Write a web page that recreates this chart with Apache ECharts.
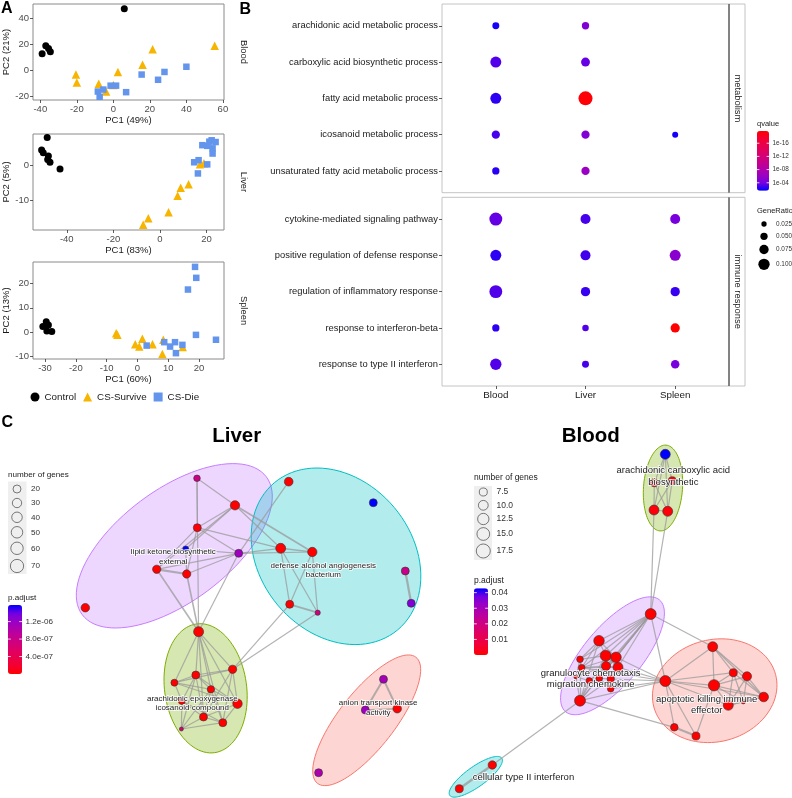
<!DOCTYPE html>
<html><head><meta charset="utf-8">
<script src="https://cdn.jsdelivr.net/npm/echarts@6/dist/echarts.min.js"></script>
<style>html,body{margin:0;padding:0;background:#fff}#c{width:792px;height:798px}</style>
</head><body><div id="c"></div>
<script>
const FONT = '"Liberation Sans", Arial, Helvetica, sans-serif';

// ================= Panel A : PCA =================
const groupNames = ['Control', 'CS-Survive', 'CS-Die'];
const groupColors = ['#000000', '#F7B500', '#6495ED'];
const groupSymbols = ['circle', 'triangle', 'rect'];
const groupSizes = [7, 8.5, 6.5];

const bloodControl = [[6, 47.5], [-39, 13], [-37, 19], [-35.5, 17], [-34.5, 14.5]];
const bloodSurvive = [[-20.5, -3], [-20, -9], [-8, -10], [-4, -16], [0, -11], [2.5, -1], [16, 4.5], [21.5, 16.5], [55.5, 19]];
const bloodDie = [[-8.5, -16], [-7.5, -20], [-5.5, -14.5], [-1.5, -11.5], [1.5, -11.5], [7, -16.5], [15.5, -3], [24.5, -7], [28, -1], [40, 3]];

const liverControl = [[-48.4, 7.9], [-50.8, 4.3], [-50.1, 3.5], [-47.9, 2.6], [-48.2, 1.6], [-47.2, 0.8], [-42.9, -1.1]];
const liverSurvive = [[-7.2, -17.1], [-5, -15.2], [3.7, -13.5], [7.6, -8.8], [8.9, -6.5], [12.3, -5.5], [17.2, 0.2], [18.9, 0.5]];
const liverDie = [[16.3, -2.4], [14.7, 0.8], [16.6, 1.4], [20.3, 0.2], [18.2, 5.7], [20.3, 5.5], [22.6, 4.8], [22.2, 7.1], [23.9, 6.6], [22.6, 3.3], [21.2, 6.7]];

const spleenControl = [[-30.7, 2.3], [-29.6, 4.3], [-28.9, 3], [-29.4, 0.5], [-27.8, 0.3]];
const spleenSurvive = [[-6.9, -0.4], [-6.5, -1], [-0.7, -4.9], [0.6, -5.9], [1.6, -2.7], [4.9, -4.9], [8.4, -3.1], [8.1, -8.9], [14.7, -6.1]];
const spleenDie = [[3, -5.5], [8.7, -4.1], [10.6, -5.9], [12.2, -4.1], [12.5, -8.6], [14.6, -5.2], [16.4, 17.5], [19.1, 22.3], [18.7, 26.8], [19, -1.1], [25.5, -3.1]];

const pcaTissues = ['Blood', 'Liver', 'Spleen'];
const pc1Titles = ['PC1 (49%)', 'PC1 (83%)', 'PC1 (60%)'];
const pc2Titles = ['PC2 (21%)', 'PC2 (5%)', 'PC2 (13%)'];
const bloodXTicks = [-40, -20, 0, 20, 40, 60], bloodYTicks = [-20, 0, 20, 40];
const liverXTicks = [-40, -20, 0, 20], liverYTicks = [-10, 0];
const spleenXTicks = [-30, -20, -10, 0, 10, 20], spleenYTicks = [-10, 0, 10, 20];

// ================= Panel B : GO dot plot =================
const tissues = ['Blood', 'Liver', 'Spleen'];
const metabolismTerms = ['arachidonic acid metabolic process', 'carboxylic acid biosynthetic process', 'fatty acid metabolic process', 'icosanoid metabolic process', 'unsaturated fatty acid metabolic process'];
const immuneTerms = ['cytokine-mediated signaling pathway', 'positive regulation of defense response', 'regulation of inflammatory response', 'response to interferon-beta', 'response to type II interferon'];
// [tissue (1..3), term (1..5), GeneRatio, -log10(qvalue)]
const metabolismDots = [
  [1, 1, 0.046, 2.1], [2, 1, 0.05, 4.7],
  [1, 2, 0.096, 3.2], [2, 2, 0.07, 3.6],
  [1, 3, 0.096, 2.5], [2, 3, 0.134, 19.4],
  [1, 4, 0.062, 3.0], [2, 4, 0.062, 4.7], [3, 4, 0.034, 2.0],
  [1, 5, 0.05, 2.4], [2, 5, 0.062, 6.1]
];
const immuneDots = [
  [1, 1, 0.12, 3.6], [2, 1, 0.084, 3.0], [3, 1, 0.084, 4.1],
  [1, 2, 0.096, 2.5], [2, 2, 0.084, 2.9], [3, 2, 0.096, 5.2],
  [1, 3, 0.12, 3.2], [2, 3, 0.075, 2.7], [3, 3, 0.075, 2.7],
  [1, 4, 0.05, 2.5], [2, 4, 0.04, 3.2], [3, 4, 0.075, 19.7],
  [1, 5, 0.1, 3.2], [2, 5, 0.046, 3.0], [3, 5, 0.065, 4.1]
];
const qRange = [1.6, 19.7];
const qTicks = [16, 12, 8, 4];
const qTickLabels = ['1e-16', '1e-12', '1e-08', '1e-04'];
const geneRatioLegend = [0.025, 0.05, 0.075, 0.1];
const geneRatioLabels = ['0.025', '0.050', '0.075', '0.100'];

// ================= Panel C : enrichment maps =================
// nodes: [x, y (layout units), number of genes, p.adjust]
const liverNodes = [
  [197, 38.3, 12, 7.5e-7], [235, 65.3, 30, 0], [197.3, 87.7, 20, 2e-8], [185.7, 109, 9, 1.58e-6],
  [238.7, 113.3, 20, 1.15e-6], [156.7, 129.3, 22, 0], [186.7, 134, 22, 0], [85.3, 167.7, 24, 0],
  [288.7, 41.7, 25, 0], [373.3, 62.7, 20, 1.58e-6], [280.7, 108.3, 35, 0], [312.3, 112, 30, 0],
  [289.7, 164.3, 20, 0], [317.7, 172.7, 6, 7e-7], [405.3, 131, 20, 8e-7], [411.2, 163.3, 20, 1.3e-6],
  [198.6, 191.7, 36, 0], [232.6, 229.3, 22, 0], [195.8, 235, 20, 0], [174.4, 242.7, 14, 0],
  [210.9, 249.3, 16, 0], [181.8, 261, 14, 0], [237.5, 263.7, 31, 0], [203.5, 277, 20, 0],
  [222.8, 282.7, 20, 0], [181.4, 289, 2.5, 6e-7],
  [383.5, 239.3, 20, 1.1e-6], [365.3, 270, 20, 1.15e-6], [397.2, 268.7, 24, 0], [318.6, 332.7, 20, 1.05e-6]
];
const liverEdges = [
  [0, 1], [0, 2], [0, 16], [1, 2], [1, 3], [1, 5], [1, 10], [1, 11, 1.6], [2, 4], [2, 5], [2, 6], [2, 10],
  [3, 4], [3, 6], [4, 6], [4, 10], [4, 11], [4, 8], [4, 16], [5, 6, 2.2], [5, 16, 1.6], [6, 16, 1.6], [5, 4],
  [10, 11, 1.6], [10, 12], [11, 12], [11, 13], [10, 13], [12, 13, 1.8], [14, 15, 2.2], [17, 12], [17, 13],
  [16, 17], [16, 18], [16, 19], [16, 20], [16, 22], [16, 23], [16, 24], [17, 18], [17, 19], [17, 22], [17, 23],
  [17, 24], [18, 19], [18, 20], [18, 21], [18, 22], [18, 23], [18, 25], [19, 20], [19, 21], [19, 22], [20, 22],
  [20, 23], [20, 24], [21, 23], [21, 24], [21, 25], [22, 23], [22, 24], [23, 24], [24, 25], [20, 25], [23, 25],
  [26, 27, 2], [26, 28, 2], [27, 28, 1.6]
];
// ellipses: [cx, cy, semi-major, semi-minor, angle(deg)]
const liverEllipses = [[174.3, 105.8, 115, 56, -36.8], [336, 116.3, 96, 76, 50], [205.6, 248.3, 65, 41, 82], [366.7, 280.3, 80, 28, -52]];
const liverEllipseColors = ['#C77CFF', '#00BFC4', '#7CAE00', '#F8766D'];
const liverClusterLabels = ['lipid ketone biosynthetic\nexternal', 'defense alcohol angiogenesis\nbacterium', 'arachidonic epoxygenase\nicosanoid compound', 'anion transport kinase\nactivity'];
const liverLabelPos = [[173.3, 117], [323.3, 130.3], [192.3, 263.2], [378.2, 268]];

const bloodNodes = [
  [225.3, 14.3, 10.3, 0.0428], [214.3, 42.7, 7.5, 0.001], [232.3, 40.7, 7.5, 0.001], [214, 70, 10.3, 0.001], [227.7, 71.3, 10.3, 0.001],
  [210.7, 174, 11.9, 0], [159, 200.7, 11.2, 0], [140, 219.3, 5.8, 0], [165.7, 215.7, 11.9, 0], [176, 217.3, 11.2, 0],
  [141.7, 227.7, 5.8, 0], [166, 226, 9, 0], [178, 227.3, 10.3, 0], [136, 236.7, 3.5, 0], [149.3, 240.7, 5.4, 0],
  [159.3, 238.3, 5.8, 0], [170.7, 239, 6.6, 0], [170.7, 248.7, 5.8, 0], [140, 260.7, 11.9, 0],
  [272.7, 206.7, 10.3, 0], [225.3, 241, 11.9, 0], [274, 245.3, 12.5, 0], [293.3, 232.7, 7.5, 0], [307, 236.3, 9, 0],
  [323.7, 257, 9.7, 0], [288.3, 265.3, 10.3, 0], [303.3, 261.7, 3.5, 0], [234.3, 287.3, 7, 0], [256, 296, 7.5, 0],
  [52.3, 325, 8, 0], [19.3, 348.7, 7.5, 0]
];
const bloodEdges = [
  [0, 1], [0, 2], [0, 3], [0, 4], [1, 2], [1, 3], [1, 4], [2, 3], [2, 4], [3, 4], [3, 5], [4, 5],
  [5, 6], [5, 7], [5, 8], [5, 9], [5, 10], [5, 11], [5, 12], [5, 18], [5, 15], [6, 7], [6, 8], [6, 9], [6, 10], [6, 18],
  [7, 8], [7, 10], [7, 13], [7, 18], [8, 9], [8, 11], [8, 12], [9, 10], [9, 11], [9, 12], [10, 11], [10, 12], [10, 13],
  [11, 12], [11, 13], [11, 14], [11, 16], [12, 16], [12, 17], [13, 14], [13, 18], [14, 15], [14, 18], [15, 16], [15, 17],
  [16, 17], [18, 16], [8, 18], [9, 18],
  [5, 19], [5, 20], [9, 20], [10, 20], [12, 20], [16, 20], [17, 20], [18, 20], [18, 27],
  [19, 20], [19, 21], [19, 22], [19, 23], [19, 24], [20, 21], [20, 22], [20, 24], [20, 25], [20, 27], [20, 28],
  [21, 22], [21, 23], [21, 24], [21, 25], [21, 26], [21, 28], [22, 24], [22, 25], [22, 26], [23, 24], [23, 25],
  [23, 26], [24, 25], [24, 26], [25, 26], [27, 28, 2.2], [29, 30, 2.4], [29, 18]
];
const bloodEllipses = [[223, 48, 43, 19.5, -86], [172.5, 215.8, 73, 29, -50], [274.7, 250.7, 63, 51, -15], [35.8, 336.8, 32, 10, -35.7]];
const bloodEllipseColors = ['#7CAE00', '#C77CFF', '#F8766D', '#00BFC4'];
const bloodClusterLabels = ['arachidonic carboxylic acid\nbiosynthetic', 'granulocyte chemotaxis\nmigration chemokine', 'apoptotic killing immune\neffector', 'cellular type II interferon'];
const bloodLabelPos = [[233.3, 36.2], [150.7, 239], [266.7, 265], [83.5, 337.3]];

const liverGeneLegend = [20, 30, 40, 50, 60, 70];
const bloodGeneLegend = [7.5, 10.0, 12.5, 15.0, 17.5];
const liverPRange = [0, 1.58e-6];
const liverPTicks = [1.2e-6, 8e-7, 4e-7];
const liverPTickLabels = ['1.2e-06', '8.0e-07', '4.0e-07'];
const bloodPRange = [0, 0.0428];
const bloodPTicks = [0.04, 0.03, 0.02, 0.01];
const bloodPTickLabels = ['0.04', '0.03', '0.02', '0.01'];

// ---------- scales ----------
const GRAD = ['#0000FF', '#7300E0', '#9A00C3', '#B500A5', '#C90088', '#DA006C', '#E8004F', '#F40031', '#FF0000'];
const ratioSize = r => 3.3 + 80 * r;
const liverGeneSize = g => 1.9 + 1.36 * Math.sqrt(g);
const bloodGeneSize = g => -3.4 + 4.17 * Math.sqrt(g);

// ---------- layout ----------
const aGrids = [{ top: 4, height: 96 }, { top: 134, height: 96 }, { top: 262, height: 97 }];
const aXRanges = [[-44, 60.6], [-54.5, 27.5], [-33.9, 28.1]];
const aYRanges = [[-22.5, 51.1], [-18.6, 8.9], [-11, 28.8]];
const aXTicks = [bloodXTicks, liverXTicks, spleenXTicks];
const aYTicks = [bloodYTicks, liverYTicks, spleenYTicks];
const aData = [[bloodControl, bloodSurvive, bloodDie], [liverControl, liverSurvive, liverDie], [spleenControl, spleenSurvive, spleenDie]];

const grids = [], xAxes = [], yAxes = [], series = [], graphics = [];
const tickStyle = { lineStyle: { color: '#333', width: 0.8 }, length: 3 };
const noLine = { show: false, onZero: false };

for (let i = 0; i < 3; i++) {
  grids.push({ left: 33, top: aGrids[i].top, width: 191, height: aGrids[i].height, show: true, borderColor: '#8a8a8a', borderWidth: 1, backgroundColor: 'transparent' });
  xAxes.push({
    type: 'value', gridIndex: i, min: aXRanges[i][0], max: aXRanges[i][1], name: pc1Titles[i], nameLocation: 'middle', nameGap: 13,
    nameTextStyle: { fontSize: 9.5, color: '#1a1a1a', fontFamily: FONT },
    axisLine: noLine, splitLine: { show: false },
    axisTick: Object.assign({ show: true, customValues: aXTicks[i] }, tickStyle),
    axisLabel: { customValues: aXTicks[i], fontSize: 9.5, color: '#4d4d4d', margin: 4, fontFamily: FONT }
  });
  yAxes.push({
    type: 'value', gridIndex: i, min: aYRanges[i][0], max: aYRanges[i][1], name: pc2Titles[i], nameLocation: 'middle', nameGap: 19,
    nameTextStyle: { fontSize: 9.5, color: '#1a1a1a', fontFamily: FONT },
    axisLine: noLine, splitLine: { show: false },
    axisTick: Object.assign({ show: true, customValues: aYTicks[i] }, tickStyle),
    axisLabel: { customValues: aYTicks[i], fontSize: 9.5, color: '#4d4d4d', margin: 4, fontFamily: FONT }
  });
  for (let g = 0; g < 3; g++) {
    series.push({
      type: 'scatter', name: groupNames[g], xAxisIndex: i, yAxisIndex: i, data: aData[i][g],
      symbol: groupSymbols[g], symbolSize: groupSizes[g], itemStyle: { color: groupColors[g], opacity: 1 }, z: 2 + g
    });
  }
  graphics.push({ type: 'text', x: 244, y: aGrids[i].top + aGrids[i].height / 2, rotation: -Math.PI / 2,
    style: { text: pcaTissues[i], fontSize: 9.4, fontFamily: FONT, fill: '#1a1a1a', align: 'center', verticalAlign: 'middle' } });
}

// ---------- panel B ----------
const bTops = [4, 197.3], bH = 188.7;
const bTerms = [metabolismTerms, immuneTerms];
const bDots = [metabolismDots, immuneDots];
const bStrips = ['metabolism', 'immune response'];
for (let k = 0; k < 2; k++) {
  const gi = 3 + k;
  grids.push({ left: 442, top: bTops[k], width: 287, height: bH, show: true, borderColor: '#c4c4c4', borderWidth: 1, backgroundColor: 'transparent' });
  xAxes.push({
    type: 'value', gridIndex: gi, min: 0.4, max: 3.6, axisLine: noLine, splitLine: { show: false },
    axisTick: Object.assign({ show: k === 1, customValues: [1, 2, 3] }, tickStyle),
    axisLabel: { show: k === 1, customValues: [1, 2, 3], formatter: v => tissues[Math.round(v) - 1], fontSize: 9.8, color: '#1a1a1a', margin: 4, fontFamily: FONT }
  });
  yAxes.push({
    type: 'value', gridIndex: gi, min: 0.4, max: 5.6, inverse: true, axisLine: noLine, splitLine: { show: false },
    axisTick: Object.assign({ show: true, customValues: [1, 2, 3, 4, 5] }, tickStyle),
    axisLabel: { customValues: [1, 2, 3, 4, 5], formatter: v => bTerms[k][Math.round(v) - 1], fontSize: 9.4, color: '#1a1a1a', margin: 4, fontFamily: FONT }
  });
  series.push({
    type: 'scatter', xAxisIndex: gi, yAxisIndex: gi, data: bDots[k], symbolSize: v => ratioSize(v[2]), itemStyle: { opacity: 1 }, z: 3
  });
  graphics.push({ type: 'rect', shape: { x: 729, y: bTops[k], width: 16, height: bH }, style: { fill: 'none', stroke: '#c4c4c4', lineWidth: 1 } });
  graphics.push({ type: 'line', shape: { x1: 729, y1: bTops[k], x2: 729, y2: bTops[k] + bH }, style: { stroke: '#333', lineWidth: 1 } });
  graphics.push({ type: 'text', x: 737.5, y: bTops[k] + bH / 2, rotation: -Math.PI / 2,
    style: { text: bStrips[k], fontSize: 9.4, fontFamily: FONT, fill: '#1a1a1a', align: 'center', verticalAlign: 'middle' } });
}

// ---------- panel C ----------
const netGrids = [{ left: 0, width: 440 }, { left: 440, width: 352 }];
const netNodes = [liverNodes, bloodNodes];
const netEdges = [liverEdges, bloodEdges];
const netEll = [liverEllipses, bloodEllipses];
const netEllCol = [liverEllipseColors, bloodEllipseColors];
const netLabels = [liverClusterLabels, bloodClusterLabels];
const netLabelPos = [liverLabelPos, bloodLabelPos];
const netSize = [liverGeneSize, bloodGeneSize];
const netFont = [8, 9.5];
const nodeSeriesIdx = [];
function hexA(hex, a) {
  const n = parseInt(hex.slice(1), 16);
  return 'rgba(' + (n >> 16) + ',' + ((n >> 8) & 255) + ',' + (n & 255) + ',' + a + ')';
}
for (let k = 0; k < 2; k++) {
  const gi = 5 + k;
  grids.push({ left: netGrids[k].left, top: 440, width: netGrids[k].width, height: 358 });
  xAxes.push({ type: 'value', gridIndex: gi, min: 0, max: netGrids[k].width, show: false });
  yAxes.push({ type: 'value', gridIndex: gi, min: 0, max: 358, inverse: true, show: false });
  const ells = netEll[k], cols = netEllCol[k];
  series.push({
    type: 'custom', coordinateSystem: 'cartesian2d', xAxisIndex: gi, yAxisIndex: gi, z: 1, silent: true,
    data: ells,
    renderItem: (params, api) => {
      const cx = api.value(0), cy = api.value(1), a = api.value(2), b = api.value(3), ang = api.value(4) * Math.PI / 180;
      const pts = [];
      for (let t = 0; t < 96; t++) {
        const th = t / 96 * 2 * Math.PI;
        pts.push(api.coord([cx + a * Math.cos(ang) * Math.cos(th) - b * Math.sin(ang) * Math.sin(th),
                            cy + a * Math.sin(ang) * Math.cos(th) + b * Math.cos(ang) * Math.sin(th)]));
      }
      const c = cols[params.dataIndex];
      return { type: 'polygon', shape: { points: pts }, style: { fill: hexA(c, 0.3), stroke: c, lineWidth: 1 } };
    }
  });
  const nodes = netNodes[k];
  series.push({
    type: 'lines', coordinateSystem: 'cartesian2d', xAxisIndex: gi, yAxisIndex: gi, z: 2, silent: true,
    lineStyle: { color: '#9a9a9a', width: 1.2, opacity: 0.75 },
    data: netEdges[k].map(e => ({ coords: [[nodes[e[0]][0], nodes[e[0]][1]], [nodes[e[1]][0], nodes[e[1]][1]]], lineStyle: { width: e[2] || 1.2 } }))
  });
  nodeSeriesIdx.push(series.length);
  const sz = netSize[k];
  series.push({
    type: 'scatter', xAxisIndex: gi, yAxisIndex: gi, z: 3, data: nodes, symbolSize: v => sz(v[2]),
    itemStyle: { borderColor: '#333', borderWidth: 0.6, opacity: 1 }
  });
  const labs = netLabels[k], fs = netFont[k];
  series.push({
    type: 'custom', coordinateSystem: 'cartesian2d', xAxisIndex: gi, yAxisIndex: gi, z: 4, silent: true,
    data: netLabelPos[k],
    renderItem: (params, api) => {
      const p = api.coord([api.value(0), api.value(1)]);
      return { type: 'text', x: p[0], y: p[1], style: { text: labs[params.dataIndex], fontSize: fs, fontFamily: FONT, fill: '#222',
        align: 'center', verticalAlign: 'middle', lineHeight: fs * 1.2, stroke: 'rgba(255,255,255,0.9)', lineWidth: 1.6 } };
    }
  });
}

// ---------- legends / annotations ----------
function T(x, y, text, o) {
  return { type: 'text', x, y, z: 100, style: Object.assign({ text, fontFamily: FONT, fontSize: 9, fill: '#1a1a1a', align: 'left', verticalAlign: 'middle' }, o || {}) };
}
graphics.push(T(1, 9, 'A', { fontSize: 16, fontWeight: 'bold', fill: '#000' }));
graphics.push(T(239.5, 9.5, 'B', { fontSize: 16, fontWeight: 'bold', fill: '#000' }));
graphics.push(T(1.5, 423, 'C', { fontSize: 16, fontWeight: 'bold', fill: '#000' }));
graphics.push(T(236.7, 436, 'Liver', { fontSize: 20.5, fontWeight: 'bold', fill: '#000', align: 'center' }));
graphics.push(T(590.7, 436.5, 'Blood', { fontSize: 20.5, fontWeight: 'bold', fill: '#000', align: 'center' }));

function barY(v, range, top, h) { return top + (range[1] - v) / (range[1] - range[0]) * h; }
function colorbarTicks(range, top, h, left, w, ticks, labels, fs) {
  ticks.forEach((t, i) => {
    const y = barY(t, range, top, h);
    graphics.push({ type: 'line', z: 101, shape: { x1: left, y1: y, x2: left + w * 0.2, y2: y }, style: { stroke: '#fff', lineWidth: 0.8 } });
    graphics.push({ type: 'line', z: 101, shape: { x1: left + w * 0.8, y1: y, x2: left + w, y2: y }, style: { stroke: '#fff', lineWidth: 0.8 } });
    graphics.push(T(left + w + 3.5, y, labels[i], { fontSize: fs, fill: '#333' }));
  });
}
// B legends
graphics.push(T(757, 124, 'qvalue', { fontSize: 7.5 }));
colorbarTicks(qRange, 131, 59.7, 757, 12, qTicks, qTickLabels, 6.4);
graphics.push(T(757, 210.7, 'GeneRatio', { fontSize: 7.5 }));
const grY = [224, 236.3, 249.5, 264.3];
geneRatioLegend.forEach((r, i) => {
  graphics.push({ type: 'circle', shape: { cx: 764, cy: grY[i], r: ratioSize(r) / 2 }, style: { fill: '#000' } });
  graphics.push(T(776, grY[i], geneRatioLabels[i], { fontSize: 6.4, fill: '#333' }));
});
// Liver network legends
graphics.push(T(8, 475, 'number of genes', { fontSize: 8.1 }));
graphics.push({ type: 'rect', shape: { x: 8, y: 481.5, width: 18.5, height: 92.5 }, style: { fill: '#EFEFEF' } });
const lgY = [489, 503, 517.3, 532.3, 548.3, 566];
liverGeneLegend.forEach((g, i) => {
  graphics.push({ type: 'circle', z: 101, shape: { cx: 17, cy: lgY[i], r: liverGeneSize(g) / 2 }, style: { fill: 'none', stroke: '#444', lineWidth: 0.7 } });
  graphics.push(T(31, lgY[i], String(g), { fontSize: 8.1, fill: '#333' }));
});
graphics.push(T(8, 597.3, 'p.adjust', { fontSize: 8.1 }));
colorbarTicks(liverPRange, 605, 69, 8, 14, liverPTicks, liverPTickLabels, 8.1);
// Blood network legends
graphics.push(T(474, 478, 'number of genes', { fontSize: 8.5 }));
graphics.push({ type: 'rect', shape: { x: 474, y: 486, width: 18, height: 74 }, style: { fill: '#EFEFEF' } });
const bgY = [492, 505.3, 519, 534, 551];
bloodGeneLegend.forEach((g, i) => {
  graphics.push({ type: 'circle', z: 101, shape: { cx: 483.3, cy: bgY[i], r: bloodGeneSize(g) / 2 }, style: { fill: 'none', stroke: '#444', lineWidth: 0.7 } });
  graphics.push(T(496.5, bgY[i], g.toFixed(1), { fontSize: 8.5, fill: '#333' }));
});
graphics.push(T(474, 580.7, 'p.adjust', { fontSize: 8.5 }));
colorbarTicks(bloodPRange, 588.3, 66.7, 474, 14, bloodPTicks, bloodPTickLabels, 8.5);

const GRAD_REV = GRAD.slice().reverse();
const vmBase = { type: 'continuous', calculable: false, hoverLink: false, padding: 0, text: null, orient: 'vertical', inverse: false };
const option = {
  animation: false,
  backgroundColor: '#fff',
  textStyle: { fontFamily: FONT },
  grid: grids, xAxis: xAxes, yAxis: yAxes, series,
  legend: {
    left: 30.5, top: 392, padding: 0, itemWidth: 9, itemHeight: 9, itemGap: 7, selectedMode: false,
    textStyle: { fontSize: 9.8, color: '#1a1a1a', fontFamily: FONT },
    data: groupNames.map((n, i) => ({ name: n, icon: groupSymbols[i], itemStyle: { color: groupColors[i] } }))
  },
  visualMap: [
    Object.assign({}, vmBase, { seriesIndex: [9, 10], dimension: 3, min: qRange[0], max: qRange[1], inRange: { color: GRAD }, left: 757, top: 131, itemWidth: 12, itemHeight: 59.7 }),
    Object.assign({}, vmBase, { seriesIndex: nodeSeriesIdx[0], dimension: 3, min: liverPRange[0], max: liverPRange[1], inRange: { color: GRAD_REV }, left: 8, top: 605, itemWidth: 14, itemHeight: 69 }),
    Object.assign({}, vmBase, { seriesIndex: nodeSeriesIdx[1], dimension: 3, min: bloodPRange[0], max: bloodPRange[1], inRange: { color: GRAD_REV }, left: 474, top: 588.3, itemWidth: 14, itemHeight: 66.7 })
  ],
  graphic: { elements: graphics }
};
const chart = echarts.init(document.getElementById('c'), null, { renderer: 'canvas', width: 792, height: 798 });
chart.setOption(option);
</script></body></html>
